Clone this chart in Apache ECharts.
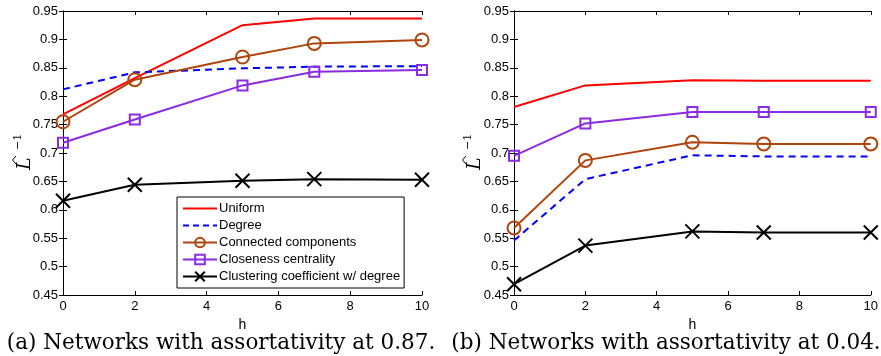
<!DOCTYPE html>
<html>
<head>
<meta charset="utf-8">
<script src="https://cdn.jsdelivr.net/npm/echarts@6/dist/echarts.min.js"></script>
<style>
  html, body { margin: 0; padding: 0; background: #fff; }
  #chart { width: 881px; height: 356px; }
</style>
</head>
<body>
<div id="chart"></div>
<script>
// h values on the x axis
const hValues = [0, 2, 5, 7, 10];
const seriesNames = ['Uniform', 'Degree', 'Connected components', 'Closeness centrality', 'Clustering coefficient w/ degree'];

// (a) assortativity 0.87
const uniformA = [0.768, 0.832, 0.925, 0.937, 0.937];
const degreeA = [0.812, 0.842, 0.849, 0.852, 0.853];
const connectedA = [0.755, 0.829, 0.869, 0.893, 0.899];
const closenessA = [0.718, 0.759, 0.819, 0.843, 0.846];
const clusteringA = [0.616, 0.644, 0.651, 0.654, 0.653];

// (b) assortativity 0.04
const uniformB = [0.781, 0.819, 0.828, 0.827, 0.827];
const degreeB = [0.546, 0.654, 0.696, 0.694, 0.694];
const connectedB = [0.568, 0.687, 0.719, 0.716, 0.716];
const closenessB = [0.695, 0.752, 0.772, 0.772, 0.772];
const clusteringB = [0.469, 0.537, 0.562, 0.560, 0.560];

const captions = ['(a) Networks with assortativity at 0.87.', '(b) Networks with assortativity at 0.04.'];

const RED = '#ff0000', BLUE = '#0000ff', BROWN = '#b0440c', PURPLE = '#8b2be2', BLACK = '#000000';
const NONE = 'rgba(0,0,0,0)';
const X_SYMBOL = 'path://M0,0L10,10M10,0L0,10';
const sansFont = '"Liberation Sans", Arial, sans-serif';
const serifFont = '"DejaVu Serif", serif';

const chart = echarts.init(document.getElementById('chart'));

const grids = [
  { left: 63, right: 459, top: 11, bottom: 61 },
  { left: 514, right: 9, top: 11, bottom: 61 }
];

function pairs(vals) {
  return hValues.map((h, i) => [h, vals[i]]);
}

const boxAxis = {
  axisLine: { lineStyle: { color: '#000', width: 1 } },
  axisTick: { inside: true, length: 4, lineStyle: { color: '#000' } },
  splitLine: { show: false }
};

const xAxes = [], yAxes = [];
grids.forEach((g, gi) => {
  xAxes.push(Object.assign({
    type: 'value', gridIndex: gi, min: 0, max: 10, interval: 2,
    name: 'h', nameLocation: 'middle', nameGap: 21,
    nameTextStyle: { color: '#000', fontSize: 14, fontFamily: sansFont },
    axisLabel: { color: '#000', fontSize: 13, fontFamily: sansFont, margin: 5 }
  }, boxAxis));
  xAxes.push(Object.assign({
    type: 'value', gridIndex: gi, position: 'top', min: 0, max: 10, interval: 2,
    axisLabel: { show: false }
  }, boxAxis));
  yAxes.push(Object.assign({
    type: 'value', gridIndex: gi, min: 0.45, max: 0.95, interval: 0.05,
    axisLabel: { color: '#000', fontSize: 13, fontFamily: sansFont, margin: 5 }
  }, boxAxis));
  yAxes.push(Object.assign({
    type: 'value', gridIndex: gi, position: 'right', min: 0.45, max: 0.95, interval: 0.05,
    axisLabel: { show: false }
  }, boxAxis));
});

function makeSeries(gi, vals) {
  const xi = gi * 2, yi = gi * 2;
  const [u, d, c, cl, cc] = vals;
  return [
    {
      name: seriesNames[0], type: 'line', xAxisIndex: xi, yAxisIndex: yi, data: pairs(u),
      symbol: 'none', lineStyle: { color: RED, width: 2 }, itemStyle: { color: NONE }
    },
    {
      name: seriesNames[1], type: 'line', xAxisIndex: xi, yAxisIndex: yi, data: pairs(d),
      symbol: 'none', lineStyle: { color: BLUE, width: 2, type: [7, 5] }, itemStyle: { color: NONE }
    },
    {
      name: seriesNames[2], type: 'line', xAxisIndex: xi, yAxisIndex: yi, data: pairs(c),
      symbol: 'circle', symbolSize: 13,
      lineStyle: { color: BROWN, width: 2 },
      itemStyle: { color: NONE, borderColor: BROWN, borderWidth: 2 }
    },
    {
      name: seriesNames[3], type: 'line', xAxisIndex: xi, yAxisIndex: yi, data: pairs(cl),
      symbol: 'rect', symbolSize: 10,
      lineStyle: { color: PURPLE, width: 2 },
      itemStyle: { color: NONE, borderColor: PURPLE, borderWidth: 2 }
    },
    {
      name: seriesNames[4], type: 'line', xAxisIndex: xi, yAxisIndex: yi, data: pairs(cc),
      symbol: X_SYMBOL, symbolSize: 14,
      lineStyle: { color: BLACK, width: 2 },
      itemStyle: { color: NONE, borderColor: BLACK, borderWidth: 2 }
    }
  ];
}

// rotated y axis label: L-hat with superscript -1
function yLabel(x) {
  return {
    type: 'group', x: x, y: 154, rotation: Math.PI / 2, silent: true,
    children: [
      { type: 'text', x: -16, y: -7, style: { text: 'L', fontFamily: serifFont, fontStyle: 'italic', fontSize: 19, fill: '#000', verticalAlign: 'middle' } },
      { type: 'polyline', shape: { points: [[-10, -16], [-6, -19.5], [-2, -16]] }, style: { stroke: '#000', lineWidth: 1, fill: null } },
      { type: 'text', x: 4, y: -14, style: { text: '\u22121', fontFamily: serifFont, fontSize: 11, fill: '#000', verticalAlign: 'middle' } }
    ]
  };
}

const option = {
  animation: false,
  backgroundColor: '#fff',
  grid: grids,
  xAxis: xAxes,
  yAxis: yAxes,
  legend: {
    data: seriesNames.map((n) => n === 'Degree' ? { name: n, lineStyle: { type: [6, 4] } } : n),
    orient: 'vertical',
    left: 177, top: 197,
    backgroundColor: '#fff',
    borderColor: '#000', borderWidth: 1, borderRadius: 0,
    padding: [5, 4, 5, 5],
    itemGap: 4, itemWidth: 34, itemHeight: 12,
    selectedMode: false,
    textStyle: { color: '#000', fontSize: 13, fontFamily: sansFont, padding: [0, 0, 0, -3] }
  },
  title: captions.map((t, i) => ({
    text: t,
    left: i === 0 ? 216 : 661, top: 327, textAlign: 'center',
    textStyle: { fontFamily: serifFont, fontWeight: 'normal', fontSize: 21.5, color: '#000' }
  })),
  graphic: [yLabel(32), yLabel(482)],
  series: makeSeries(0, [uniformA, degreeA, connectedA, closenessA, clusteringA])
    .concat(makeSeries(1, [uniformB, degreeB, connectedB, closenessB, clusteringB]))
};

chart.setOption(option);
</script>
</body>
</html>
